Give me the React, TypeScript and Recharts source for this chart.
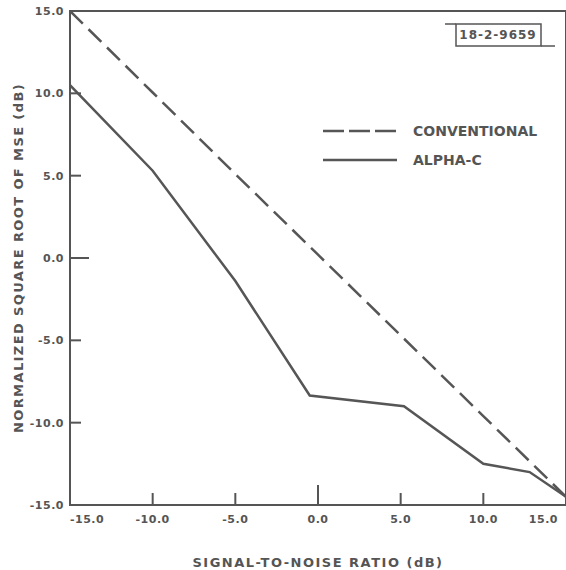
import { LineChart, Line, XAxis, YAxis, ReferenceArea } from "recharts";

// signal-to-noise ratio (dB) vs normalized sqrt of MSE (dB)
const SNR_TICKS = [-15, -10, -5, 0, 5, 10, 15];
const MSE_TICKS = [-15, -10, -5, 0, 5, 10, 15];

const conventionalSnr = [-15, -10, -5, 0, 5, 10, 15];
const conventionalMse = [15, 10.05, 5.1, 0.2, -4.7, -9.6, -14.5];

const alphaSnr = [-15, -10, -5, -0.5, 5.2, 10, 12.8, 15];
const alphaMse = [10.5, 5.3, -1.4, -8.35, -9.0, -12.5, -13.0, -14.5];

const conventionalData = conventionalSnr.map((snr, i) => ({ snr, mse: conventionalMse[i] }));
const alphaData = alphaSnr.map((snr, i) => ({ snr, mse: alphaMse[i] }));

const INK = "#555555";
const LINE = "#565656";
const FONT = "'DejaVu Sans', sans-serif";

// tickSize + tickMargin, used to find the axis line from the label anchor
const Y_GAP = 6;
const X_GAP = 10;

function YTick(props: any) {
  const { x, y, payload } = props;
  const v = payload.value as number;
  const axisX = x + Y_GAP;
  const len = v === 0 ? 19 : 11;
  return (
    <g>
      {v !== -15 && v !== 15 && (
        <line x1={axisX} x2={axisX + len} y1={y} y2={y} stroke={INK} strokeWidth={2} />
      )}
      <text x={x} y={y} dy="0.35em" textAnchor="end" fill={INK} fontSize={11} fontWeight="bold" fontFamily={FONT} letterSpacing={0.5}>
        {v.toFixed(1)}
      </text>
    </g>
  );
}

function XTick(props: any) {
  const { x, y, payload, index } = props;
  const v = payload.value as number;
  const axisY = y - X_GAP;
  const len = v === 0 ? 20 : 12;
  const anchor = index === 0 ? "start" : index === SNR_TICKS.length - 1 ? "end" : "middle";
  return (
    <g>
      {v !== -15 && v !== 15 && (
        <line x1={x} x2={x} y1={axisY} y2={axisY - len} stroke={INK} strokeWidth={2} />
      )}
      <text x={x} y={y} dy="0.71em" textAnchor={anchor} fill={INK} fontSize={11} fontWeight="bold" fontFamily={FONT} letterSpacing={0.5}>
        {v.toFixed(1)}
      </text>
    </g>
  );
}

function Overlay() {
  const txt = { fill: INK, fontFamily: FONT, fontWeight: "bold" as const };
  return (
    <svg width={566} height={570} style={{ position: "absolute", left: 0, top: 0, pointerEvents: "none" }}>
      {/* legend */}
      <line x1={323} x2={397} y1={131} y2={131} stroke={LINE} strokeWidth={2.5} strokeDasharray="21 5" />
      <line x1={323} x2={397} y1={160} y2={160} stroke={LINE} strokeWidth={2.5} />
      <text x={413} y={131} dy="0.36em" fontSize={14} {...txt}>CONVENTIONAL</text>
      <text x={413} y={160} dy="0.36em" fontSize={14} {...txt}>ALPHA-C</text>
      {/* drawing number */}
      <rect x={456} y={24} width={85} height={22} fill="none" stroke={INK} strokeWidth={1.5} />
      <line x1={445} x2={456} y1={24} y2={24} stroke={INK} strokeWidth={1.5} />
      <line x1={541} x2={555} y1={46} y2={46} stroke={INK} strokeWidth={1.5} />
      <text x={498} y={35} dy="0.36em" textAnchor="middle" fontSize={12} {...txt} letterSpacing={1}>18-2-9659</text>
    </svg>
  );
}

export default function App() {
  return (
    <div style={{ position: "absolute", left: 0, top: 0, width: 566, height: 570, background: "#fff" }}>
      <LineChart width={566} height={570} margin={{ top: 11, right: 0, bottom: 0, left: 0 }}>
        <XAxis
          type="number"
          dataKey="snr"
          domain={[-15, 15]}
          ticks={SNR_TICKS}
          allowDataOverflow
          height={65}
          axisLine={false}
          tickLine={false}
          tickSize={6}
          tickMargin={4}
          tick={<XTick />}
          label={{
            value: "SIGNAL-TO-NOISE RATIO (dB)",
            position: "insideBottom",
            offset: 3,
            fill: INK,
            style: { fontFamily: FONT, fontSize: 13, fontWeight: "bold", letterSpacing: 1.5 },
          }}
        />
        <YAxis
          type="number"
          dataKey="mse"
          domain={[-15, 15]}
          ticks={MSE_TICKS}
          allowDataOverflow
          width={70}
          axisLine={false}
          tickLine={false}
          tickSize={4}
          tickMargin={2}
          tick={<YTick />}
          label={{
            value: "NORMALIZED SQUARE ROOT OF MSE (dB)",
            angle: -90,
            position: "insideLeft",
            offset: 18,
            fill: INK,
            style: { textAnchor: "middle", fontFamily: FONT, fontSize: 13, fontWeight: "bold", letterSpacing: 1.4 },
          }}
        />
        <ReferenceArea x1={-15} x2={15} y1={-15} y2={15} fill="none" stroke={INK} strokeWidth={2} ifOverflow="visible" />
        <Line
          data={conventionalData}
          dataKey="mse"
          type="linear"
          stroke={LINE}
          strokeWidth={2.5}
          strokeDasharray="18 8"
          dot={false}
          isAnimationActive={false}
        />
        <Line
          data={alphaData}
          dataKey="mse"
          type="linear"
          stroke={LINE}
          strokeWidth={2.5}
          dot={false}
          isAnimationActive={false}
        />
      </LineChart>
      <Overlay />
    </div>
  );
}
